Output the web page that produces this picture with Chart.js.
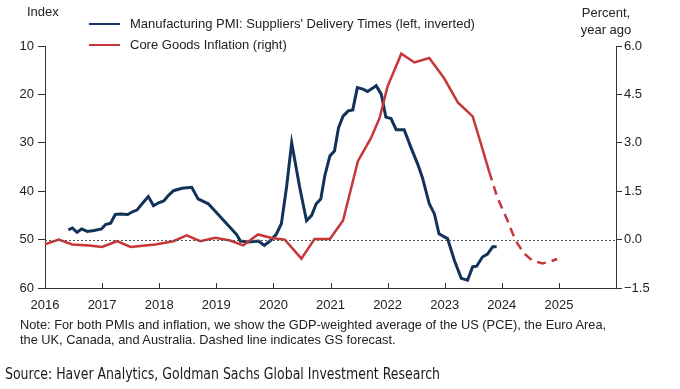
<!DOCTYPE html>
<html>
<head>
<meta charset="utf-8">
<script src="https://cdn.jsdelivr.net/npm/chart.js@4"></script>
<style>
  body { margin: 0; background: #fff; }
  #wrap { position: relative; width: 680px; height: 389px; font-family: "Liberation Sans", Arial, sans-serif; color: #222; }
  #chart { position: absolute; left: 0; top: 0; }
  .lbl { position: absolute; font-size: 13px; white-space: nowrap; line-height: 16px; }
  .key { position: absolute; width: 31px; height: 2px; }
  .note { position: absolute; left: 20px; top: 317px; font-size: 12.8px; line-height: 15px; white-space: nowrap; }
  .source { position: absolute; left: 5px; top: 364px; font-family: "Liberation Sans Narrow", "DejaVu Sans Condensed", sans-serif; font-size: 16px; color: #1a1a1a; white-space: nowrap; transform: scaleX(0.87); transform-origin: 0 0; }
</style>
</head>
<body>
<div id="wrap">
  <canvas id="chart" width="680" height="389"></canvas>
  <div class="lbl" style="left:27px; top:4px;">Index</div>
  <div class="key" style="left:89px; top:23px; background:#15365e;"></div>
  <div class="lbl" style="left:130px; top:16px;">Manufacturing PMI: Suppliers' Delivery Times (left, inverted)</div>
  <div class="key" style="left:89px; top:44px; background:#c73638;"></div>
  <div class="lbl" style="left:130px; top:37px;">Core Goods Inflation (right)</div>
  <div class="lbl" style="left:580px; top:4px; width:52px; text-align:center; line-height:17px;">Percent,<br>year ago</div>
  <div class="note">Note: For both PMIs and inflation, we show the GDP-weighted average of the US (PCE), the Euro Area,<br>the UK, Canada, and Australia. Dashed line indicates GS forecast.</div>
  <div class="source">Source: Haver Analytics, Goldman Sachs Global Investment Research</div>
</div>
<script>
// time axis in decimal years
const yearTicks = [2016, 2017, 2018, 2019, 2020, 2021, 2022, 2023, 2024, 2025];

// Manufacturing PMI: Suppliers' Delivery Times (left axis, inverted)
const pmiDates = [2016.41, 2016.48, 2016.56, 2016.64, 2016.74, 2016.86, 2016.99, 2017.06, 2017.15, 2017.23,
    2017.32, 2017.45, 2017.54, 2017.61, 2017.70, 2017.81, 2017.90, 2017.99, 2018.08, 2018.16,
    2018.25, 2018.40, 2018.57, 2018.68, 2018.86, 2019.07, 2019.21, 2019.36, 2019.42, 2019.56,
    2019.74, 2019.84, 2019.94, 2020.05, 2020.14, 2020.23, 2020.32, 2020.46, 2020.58, 2020.67,
    2020.75, 2020.83, 2020.90, 2020.99, 2021.07, 2021.14, 2021.22, 2021.31, 2021.39, 2021.47,
    2021.57, 2021.65, 2021.74, 2021.80, 2021.89, 2021.97, 2022.06, 2022.15, 2022.29, 2022.41,
    2022.53, 2022.61, 2022.73, 2022.82, 2022.90, 2023.05, 2023.17, 2023.29, 2023.40, 2023.49,
    2023.56, 2023.66, 2023.75, 2023.84, 2023.91];
const pmiValues = [48.0, 47.6, 48.5, 47.8, 48.3, 48.1, 47.8, 46.9, 46.6, 44.8,
    44.7, 44.8, 44.2, 43.9, 42.6, 41.1, 43.0, 42.4, 42.0, 40.9,
    39.9, 39.4, 39.2, 41.6, 42.6, 45.3, 47.1, 49.0, 50.3, 50.5,
    50.3, 51.2, 50.3, 48.9, 46.7, 39.2, 30.0, 39.2, 46.1, 45.0,
    42.6, 41.6, 36.8, 32.7, 31.7, 26.9, 24.5, 23.4, 23.2, 18.6,
    18.9, 19.4, 18.7, 18.2, 20.0, 24.7, 25.0, 27.3, 27.3, 31.0,
    34.5, 37.2, 42.6, 44.7, 48.8, 49.8, 54.3, 58.0, 58.4, 55.6,
    55.5, 53.6, 53.0, 51.5, 51.5];

// Core goods inflation, % yoy (right axis); dashed from forecastFrom on
const coreDates = [2016.00, 2016.24, 2016.48, 2016.77, 2017.00, 2017.26, 2017.50, 2017.93, 2018.25, 2018.48,
    2018.72, 2018.98, 2019.24, 2019.47, 2019.73, 2019.97, 2020.20, 2020.49, 2020.72, 2020.99,
    2021.22, 2021.48, 2021.71, 2021.86, 2022.00, 2022.24, 2022.47, 2022.73, 2022.99, 2023.23,
    2023.49, 2023.63, 2023.78, 2023.92, 2024.10, 2024.24, 2024.39, 2024.53, 2024.71, 2024.83, 2024.97];
const coreValues = [-0.15, 0.0, -0.15, -0.18, -0.23, -0.05, -0.23, -0.15, -0.05, 0.13,
    -0.05, 0.06, -0.03, -0.18, 0.16, 0.05, 0.0, -0.59, 0.02, 0.02,
    0.59, 2.43, 3.15, 3.77, 4.75, 5.76, 5.49, 5.63, 5.0, 4.25,
    3.82, 3.0, 2.1, 1.31, 0.59, -0.03, -0.43, -0.64, -0.74, -0.69, -0.60];
const forecastFrom = 2023.78;

const leftTicks = [10, 20, 30, 40, 50, 60];
const rightTicks = [-1.5, 0.0, 1.5, 3.0, 4.5, 6.0];

const ink = '#222';
const axisColor = '#333';
const tickFont = {family: 'Liberation Sans', size: 13};

// zero line and inward year ticks
const extras = {
    id: 'extras',
    afterDatasetsDraw(chart) {
        const c = chart.ctx, a = chart.chartArea;
        const yr = chart.scales.yR, x = chart.scales.x;
        c.save();
        c.strokeStyle = '#555';
        c.lineWidth = 1;
        c.setLineDash([2, 2]);
        const y0 = Math.round(yr.getPixelForValue(0)) + 0.5;
        c.beginPath(); c.moveTo(a.left, y0); c.lineTo(a.right, y0); c.stroke();
        c.setLineDash([]);
        c.strokeStyle = axisColor;
        yearTicks.forEach((t) => {
            const px = Math.round(x.getPixelForValue(t)) + 0.5;
            c.beginPath(); c.moveTo(px, a.bottom); c.lineTo(px, a.bottom - 5); c.stroke();
        });
        c.restore();
    }
};

new Chart(document.getElementById('chart'), {
    type: 'line',
    data: {
        datasets: [
            {
                label: 'Core Goods Inflation (right)',
                data: coreDates.map((d, i) => ({x: d, y: coreValues[i]})),
                yAxisID: 'yR',
                borderColor: '#c73638',
                borderWidth: 2.5,
                pointRadius: 0,
                tension: 0,
                segment: {
                    borderDash: (s) => s.p0.parsed.x >= forecastFrom ? [9, 6] : undefined,
                },
            },
            {
                label: "Manufacturing PMI: Suppliers' Delivery Times (left, inverted)",
                data: pmiDates.map((d, i) => ({x: d, y: pmiValues[i]})),
                yAxisID: 'yL',
                borderColor: '#12325a',
                borderWidth: 3,
                pointRadius: 0,
                tension: 0,
            },
        ],
    },
    options: {
        responsive: false,
        animation: false,
        devicePixelRatio: 1,
        layout: {padding: {top: 46, left: 0, right: 0, bottom: 0}},
        plugins: {legend: {display: false}, tooltip: {enabled: false}},
        scales: {
            x: {
                type: 'linear',
                min: 2016,
                max: 2026,
                afterBuildTicks: (s) => { s.ticks = yearTicks.concat([2026]).map((v) => ({value: v})); },
                ticks: {
                    font: tickFont, color: ink, padding: 2,
                    callback: (v) => v <= 2025 ? String(v) : '',
                },
                grid: {display: false},
                border: {color: axisColor, width: 1},
                afterFit: (s) => { s.height = 101; },
            },
            yL: {
                position: 'left',
                reverse: true,
                min: 10,
                max: 60,
                afterBuildTicks: (s) => { s.ticks = leftTicks.map((v) => ({value: v})); },
                ticks: {font: tickFont, color: ink, padding: 4},
                grid: {drawOnChartArea: false, tickLength: 7, color: axisColor},
                border: {color: axisColor, width: 1},
                afterFit: (s) => { s.width = 45; },
            },
            yR: {
                position: 'right',
                min: -1.5,
                max: 6.0,
                afterBuildTicks: (s) => { s.ticks = rightTicks.map((v) => ({value: v})); },
                ticks: {
                    font: tickFont, color: ink, padding: 2,
                    callback: (v) => (v < 0 ? '\u2212' + Math.abs(v).toFixed(1) : v.toFixed(1)),
                },
                grid: {drawOnChartArea: false, tickLength: 6, color: axisColor},
                border: {color: axisColor, width: 1},
                afterFit: (s) => { s.width = 64; },
            },
        },
    },
    plugins: [extras],
});
</script>
</body>
</html>
